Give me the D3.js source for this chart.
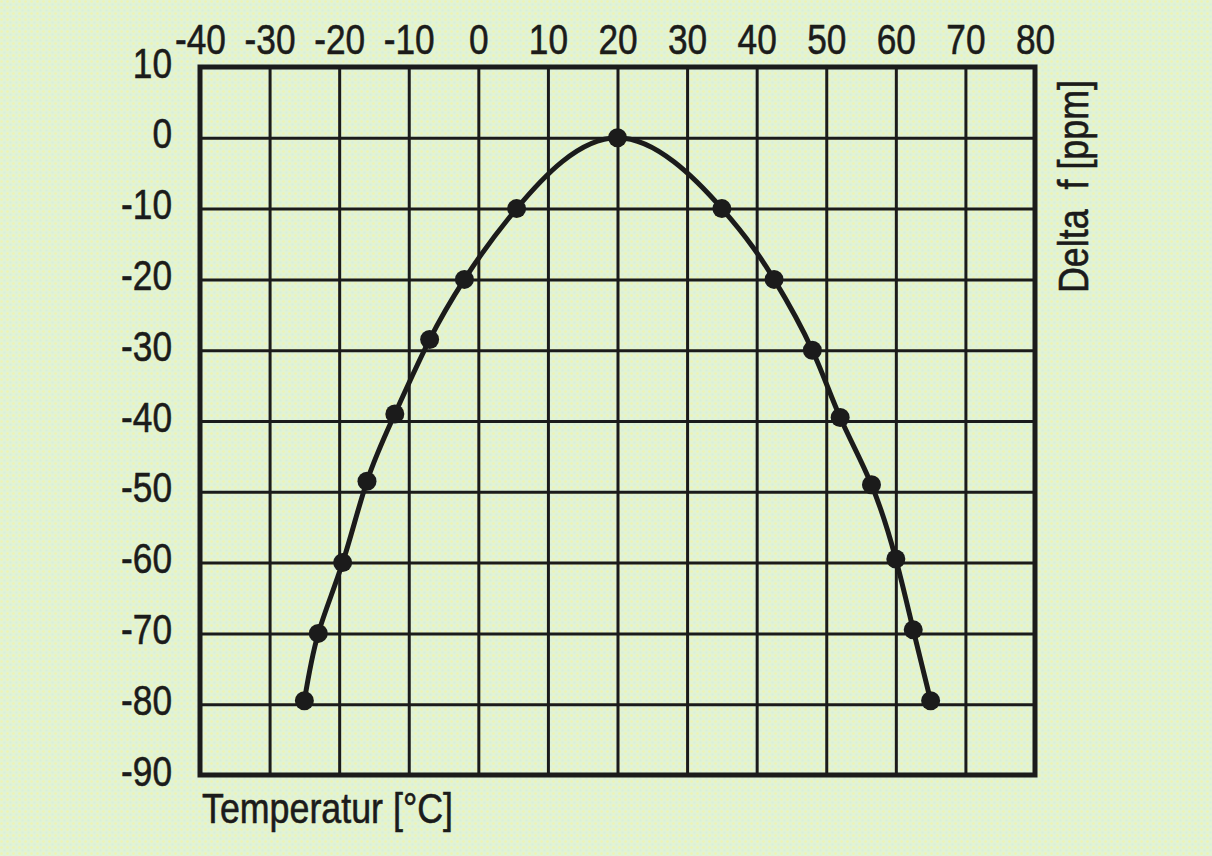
<!DOCTYPE html>
<html>
<head>
<meta charset="utf-8">
<script src="https://cdn.jsdelivr.net/npm/d3@7/dist/d3.min.js"></script>
<style>
  html, body { margin: 0; padding: 0; background: #e3f3d2; }
  svg { display: block; }
</style>
</head>
<body>
<svg id="chart" width="1212" height="856"></svg>
<script>
// ---- data ----
const xTicks = [-40, -30, -20, -10, 0, 10, 20, 30, 40, 50, 60, 70, 80];
const yTicks = [10, 0, -10, -20, -30, -40, -50, -60, -70, -80, -90];
const temperatures = [-25, -23, -19.5, -16, -12, -7, -2, 5.5, 20, 35, 42.5, 48, 52, 56.5, 60, 62.5, 65];
const deltaF = [-79.5, -70, -60, -48.5, -39, -28.5, -20, -10, 0, -10, -20, -30, -39.5, -49, -59.5, -69.5, -79.5];
const xTitle = "Temperatur [°C]";
const yTitle = "Delta\u00a0\u00a0f [ppm]";

(function () {
const svg = d3.select("#chart");
const W = 1212, H = 856;
const pL = 200, pR = 1035, pT = 67, pB = 775;
const sx = 0.82; // condensed glyphs

// background with halftone dots
const defs = svg.append("defs");
const pat = defs.append("pattern").attr("id", "dots")
  .attr("width", 6).attr("height", 6).attr("patternUnits", "userSpaceOnUse");
pat.append("rect").attr("width", 6).attr("height", 6).attr("fill", "#e2f3d4");
pat.append("circle").attr("cx", 1.5).attr("cy", 1.5).attr("r", 1.3).attr("fill", "#eef3b2");
pat.append("circle").attr("cx", 4.5).attr("cy", 4.5).attr("r", 1.0).attr("fill", "#d6f0dc");
svg.append("rect").attr("width", W).attr("height", H).attr("fill", "url(#dots)");

const x = d3.scaleLinear().domain([-40, 80]).range([pL, pR]);
const y = d3.scaleLinear().domain([10, -90]).range([pT, pB]);

const font = "'Liberation Sans', Arial, sans-serif";
const ink = "#1b1b1b";

// vertical grid + top labels
const gx = svg.append("g").attr("transform", `translate(0,${pT})`)
  .call(d3.axisTop(x).tickValues(xTicks).tickFormat(d => String(d))
    .tickSize(-(pB - pT)).tickPadding(14));
gx.select(".domain").remove();
gx.selectAll(".tick line").attr("stroke", ink).attr("stroke-width", 3);
gx.selectAll(".tick text").attr("font-family", font).attr("font-size", 43)
  .attr("fill", ink).attr("y", -13).attr("dy", 0)
  .attr("stroke", ink).attr("stroke-width", 0.6)
  .attr("transform", `scale(${sx},1)`);

// horizontal grid + left labels
const gy = svg.append("g").attr("transform", `translate(${pL},0)`)
  .call(d3.axisLeft(y).tickValues(yTicks).tickFormat(d => String(d))
    .tickSize(-(pR - pL)).tickPadding(28));
gy.select(".domain").remove();
gy.selectAll(".tick line").attr("stroke", ink).attr("stroke-width", 3);
gy.selectAll(".tick text").attr("font-family", font).attr("font-size", 43)
  .attr("fill", ink).attr("dy", 10).attr("x", -28 / sx)
  .attr("stroke", ink).attr("stroke-width", 0.6)
  .attr("transform", `scale(${sx},1)`);

// frame
svg.append("rect").attr("x", pL).attr("y", pT)
  .attr("width", pR - pL).attr("height", pB - pT)
  .attr("fill", "none").attr("stroke", ink).attr("stroke-width", 5);

// curve
const pts = temperatures.map((t, i) => [t, deltaF[i]]);
const line = d3.line().x(d => x(d[0])).y(d => y(d[1])).curve(d3.curveNatural);
svg.append("path").datum(pts).attr("d", line)
  .attr("fill", "none").attr("stroke", ink).attr("stroke-width", 5);

svg.append("g").selectAll("circle").data(pts).join("circle")
  .attr("cx", d => x(d[0])).attr("cy", d => y(d[1])).attr("r", 9.5)
  .attr("fill", ink);

// titles
svg.append("text").attr("x", 202).attr("y", 823)
  .attr("font-family", font).attr("font-size", 43).attr("fill", ink)
  .attr("stroke", ink).attr("stroke-width", 0.6)
  .attr("textLength", 251).attr("lengthAdjust", "spacingAndGlyphs")
  .text(xTitle);

svg.append("text").attr("transform", "translate(1088,293) rotate(-90)")
  .attr("font-family", font).attr("font-size", 43).attr("fill", ink)
  .attr("stroke", ink).attr("stroke-width", 0.6)
  .attr("textLength", 213).attr("lengthAdjust", "spacingAndGlyphs")
  .text(yTitle);
})();
</script>
</body>
</html>
